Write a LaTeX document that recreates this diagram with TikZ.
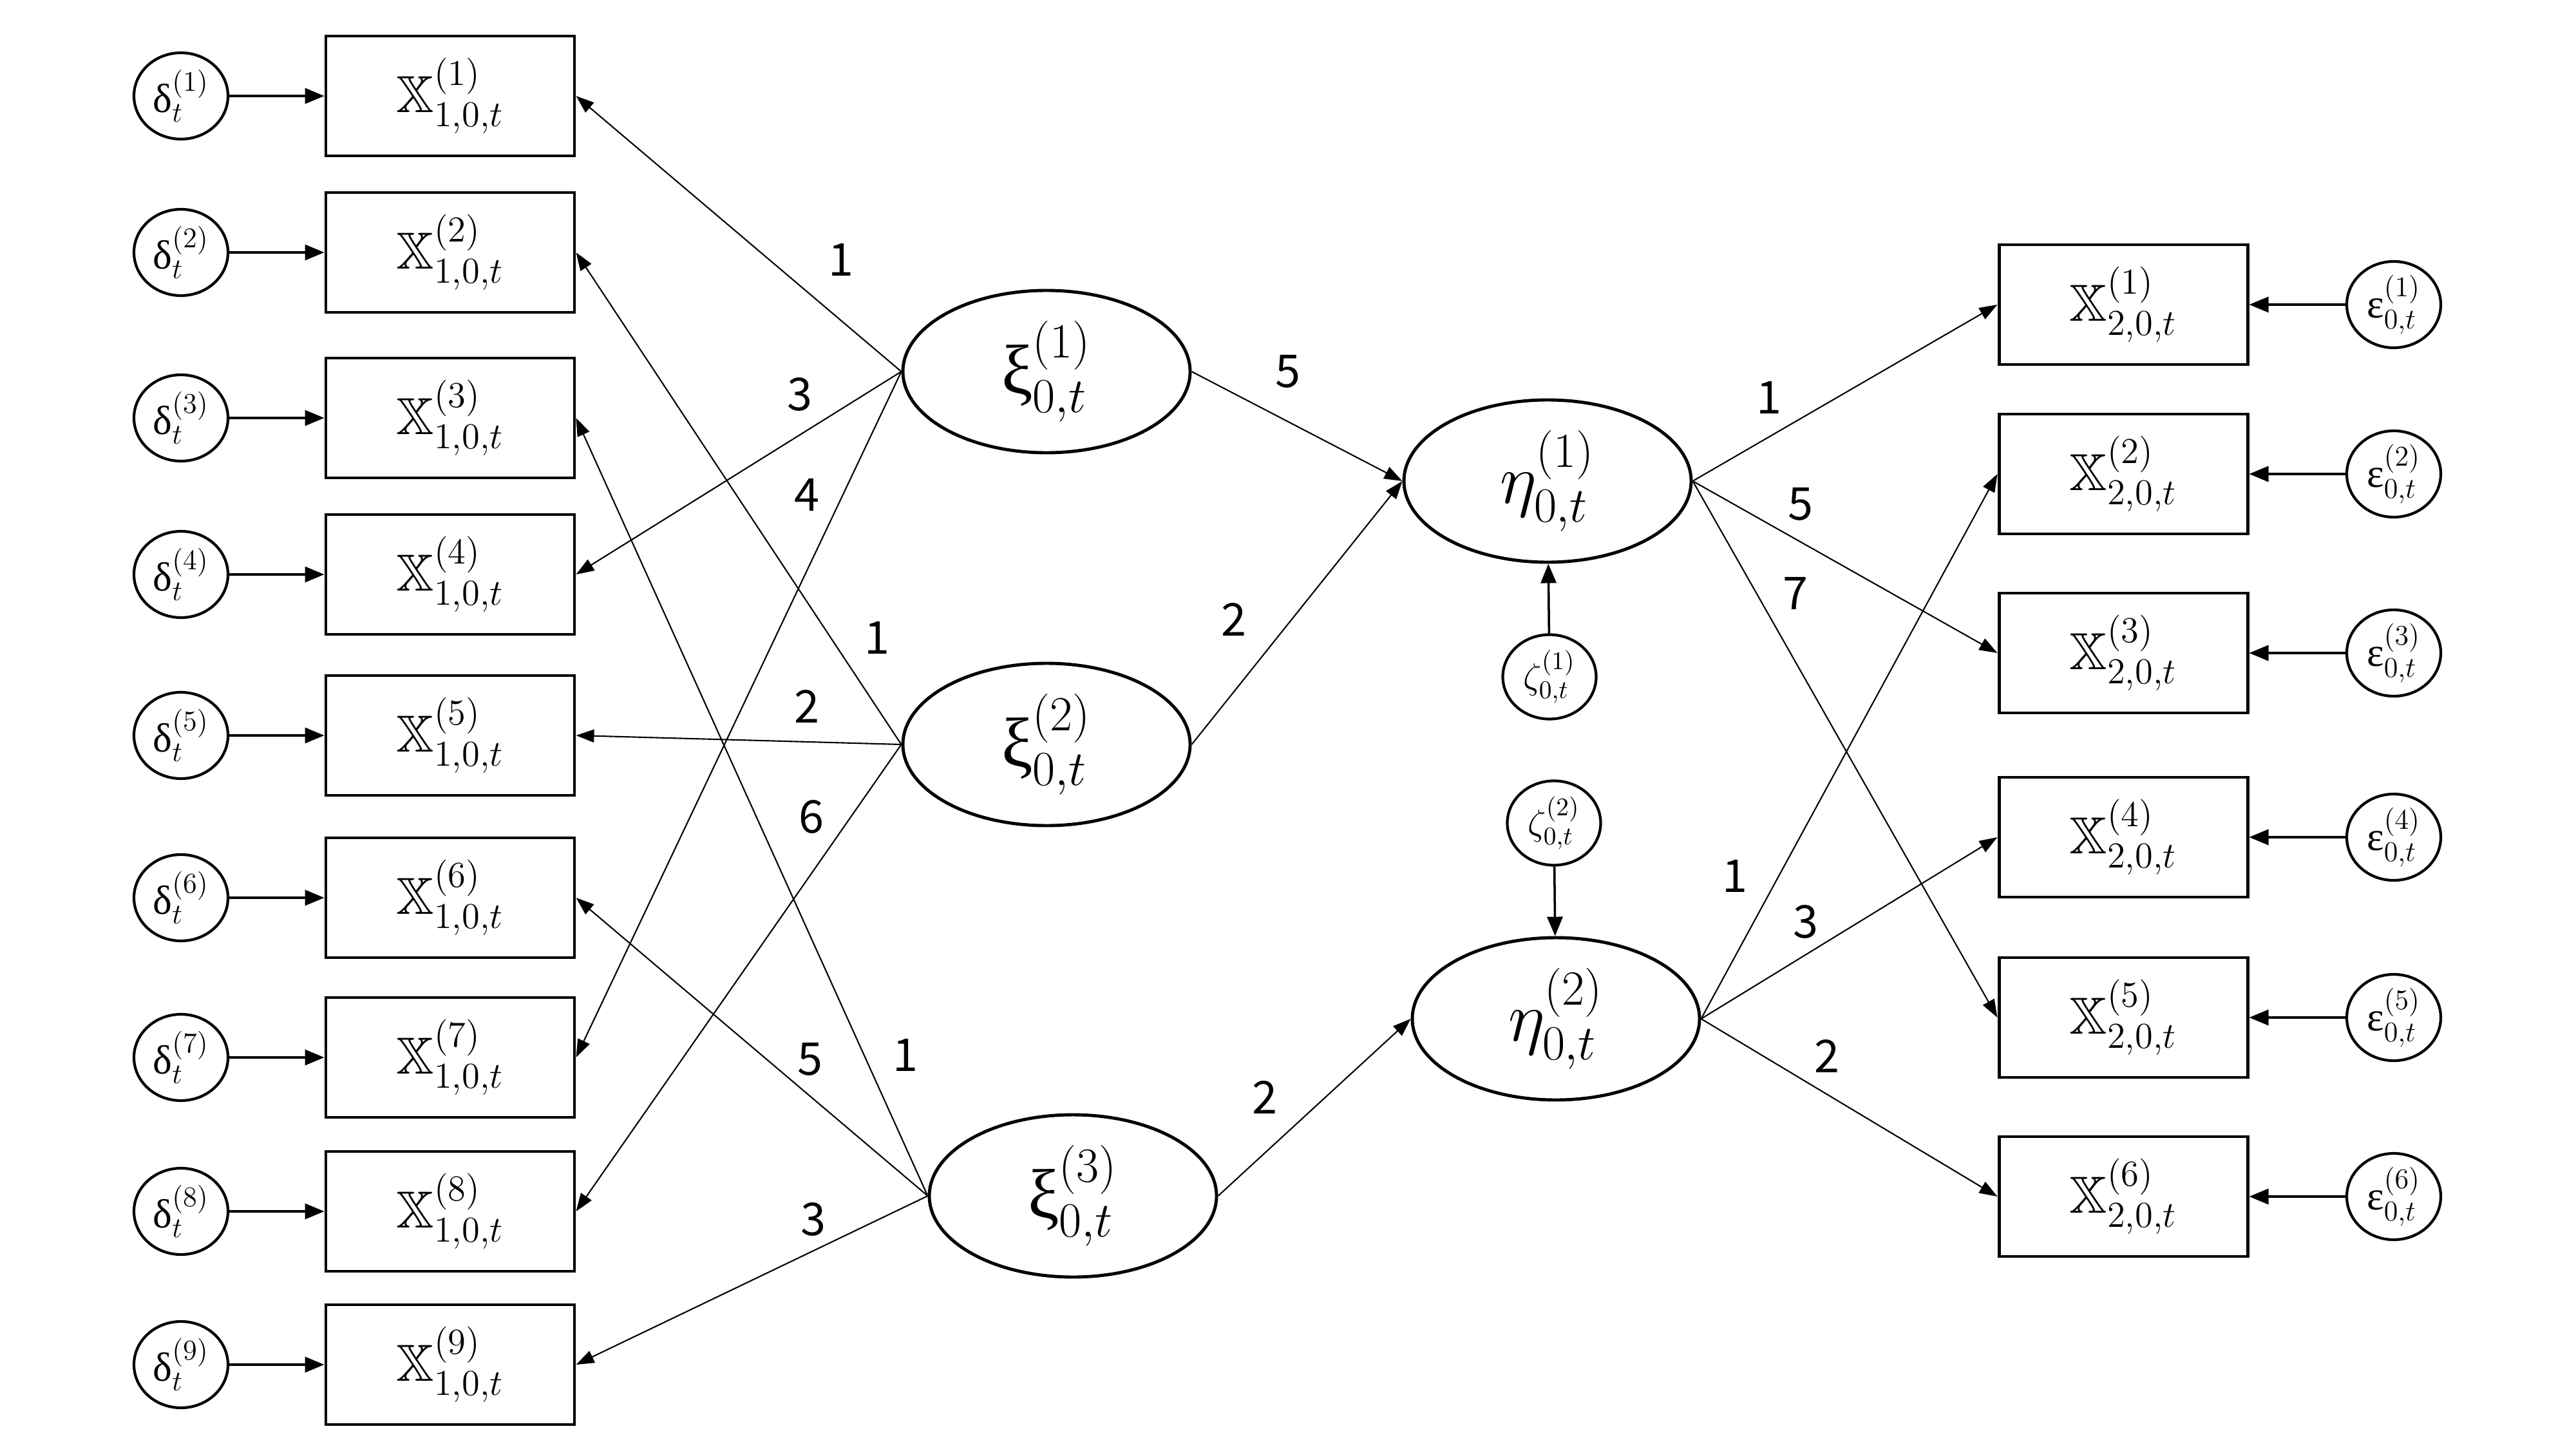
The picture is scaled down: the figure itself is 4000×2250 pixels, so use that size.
\RequirePackage{fix-cm}
\documentclass[tikz,border=0pt]{standalone}
\usepackage{amsmath,amssymb}
\usepackage{fontspec}
\newfontfamily\grk{Liberation Serif}
\newfontfamily\lblfont{Noto Sans CJK JP}
\usetikzlibrary{arrows.meta,shapes.geometric}
\newcommand{\gxi}{\text{\grk ξ}}
\newcommand{\gdelta}{\text{\grk δ}}
\newcommand{\geps}{\text{\grk ε}}
\begin{document}
\begin{tikzpicture}[x=0.1mm,y=-0.1mm,
  obs/.style={draw, line width=1.4pt, minimum width=3.86cm, minimum height=1.86cm, inner sep=0pt, font=\fontsize{23}{27}\selectfont},
  errc/.style={draw, ellipse, line width=1.2pt, minimum width=1.46cm, minimum height=1.34cm, inner sep=0pt, font=\fontsize{18}{21}\selectfont},
  zerr/.style={draw, ellipse, line width=1.2pt, minimum width=1.45cm, minimum height=1.31cm, inner sep=0pt, font=\fontsize{16}{19}\selectfont},
  lat/.style={draw, ellipse, line width=1.4pt, minimum width=4.46cm, minimum height=2.52cm, inner sep=0pt, font=\fontsize{31}{36}\selectfont},
  conn/.style={-{Triangle[length=0.28cm,width=0.2cm]}, line width=0.6pt},
  econn/.style={-{Triangle[length=0.3cm,width=0.24cm]}, line width=1pt},
  lab/.style={font=\lblfont\fontsize{20}{24}\selectfont, inner sep=0pt}]
\useasboundingbox (0,0) rectangle (4000,2250);

% left observed boxes
\foreach \i/\y in {1/149,2/392,3/649,4/892,5/1142,6/1394,7/1642,8/1881,9/2119}{
  \node[obs] (L\i) at (699,\y) {$\mathbb{X}^{(\i)}_{1,0,t}$};
  \node[errc] (D\i) at (281,\y) {$\gdelta^{(\i)}_{t}$};
  \draw[econn] (D\i) -- (L\i);
}

% right observed boxes
\foreach \i/\y in {1/473,2/736,3/1014,4/1300,5/1580,6/1858}{
  \node[obs] (R\i) at (3297,\y) {$\mathbb{X}^{(\i)}_{2,0,t}$};
  \node[errc] (E\i) at (3717,\y) {$\geps^{(\i)}_{0,t}$};
  \draw[econn] (E\i) -- (R\i);
}

% latent exogenous
\node[lat] (X1) at (1625,577) {$\gxi^{(1)}_{0,t}$};
\node[lat] (X2) at (1625,1156) {$\gxi^{(2)}_{0,t}$};
\node[lat] (X3) at (1666,1857) {$\gxi^{(3)}_{0,t}$};

% latent endogenous
\node[lat] (H1) at (2403,747) {$\eta^{(1)}_{0,t}$};
\node[lat] (H2) at (2416,1582) {$\eta^{(2)}_{0,t}$};

% disturbances
\node[zerr] (Z1) at (2406,1051) {$\zeta^{(1)}_{0,t}$};
\node[zerr] (Z2) at (2413,1278) {$\zeta^{(2)}_{0,t}$};
\draw[econn] (Z1) -- (H1);
\draw[econn] (Z2) -- (H2);

% measurement paths (left)
\draw[conn] (X1.west) -- (L1.east);
\draw[conn] (X1.west) -- (L4.east);
\draw[conn] (X1.west) -- (L7.east);
\draw[conn] (X2.west) -- (L2.east);
\draw[conn] (X2.west) -- (L5.east);
\draw[conn] (X2.west) -- (L8.east);
\draw[conn] (X3.west) -- (L3.east);
\draw[conn] (X3.west) -- (L6.east);
\draw[conn] (X3.west) -- (L9.east);

% structural paths
\draw[conn] (X1.east) -- (H1.west);
\draw[conn] (X2.east) -- (H1.west);
\draw[conn] (X3.east) -- (H2.west);

% measurement paths (right)
\draw[conn] (H1.east) -- (R1.west);
\draw[conn] (H1.east) -- (R3.west);
\draw[conn] (H1.east) -- (R5.west);
\draw[conn] (H2.east) -- (R2.west);
\draw[conn] (H2.east) -- (R4.west);
\draw[conn] (H2.east) -- (R6.west);

% weights
\node[lab] (w1) at (1306,403) {1};
\node[lab] (w2) at (1242,612) {3};
\node[lab] (w3) at (1253,768) {4};
\node[lab] (w4) at (1362,990) {1};
\node[lab] (w5) at (1253,1097) {2};
\node[lab] (w6) at (1260,1268) {6};
\node[lab] (w7) at (1406,1638) {1};
\node[lab] (w8) at (1258,1645) {5};
\node[lab] (w9) at (1263,1893) {3};
\node[lab] (w10) at (2000,577) {5};
\node[lab] (w11) at (1916,962) {2};
\node[lab] (w12) at (1964,1704) {2};
\node[lab] (w13) at (2747,617) {1};
\node[lab] (w14) at (2796,783) {5};
\node[lab] (w15) at (2788,921) {7};
\node[lab] (w16) at (2694,1360) {1};
\node[lab] (w17) at (2804,1431) {3};
\node[lab] (w18) at (2837,1640) {2};
\end{tikzpicture}
\end{document}
